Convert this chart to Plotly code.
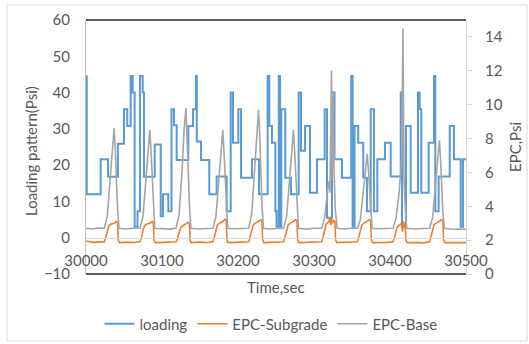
import plotly.graph_objects as go

# ---------------- data ----------------
x_ticks = [30000, 30100, 30200, 30300, 30400, 30500]
left_ticks = [-10, 0, 10, 20, 30, 40, 50, 60]
right_ticks = [0, 2, 4, 6, 8, 10, 12, 14]

# loading pattern (step series, value holds until next time)
loading_t = [30000, 30001, 30019.3, 30029, 30042, 30050, 30054.3, 30058.8, 30061.4, 30064,
             30067.8, 30071, 30074.6, 30076.3, 30090.4, 30098.3, 30101.3, 30108.3, 30112.5, 30115.8,
             30119.3, 30134.6, 30140.8, 30144.7, 30145.8, 30151.3, 30162.2, 30171.9, 30185.1, 30190.4,
             30193.4, 30200.4, 30204, 30218.4, 30227.6, 30239, 30241.2, 30244.7, 30249.1, 30250.7,
             30253.6, 30255.3, 30257, 30262.2, 30269.7, 30279.8, 30282.9, 30288.2, 30294.7, 30303.9,
             30314, 30317.1, 30323.7, 30327, 30336.8, 30349, 30350.8, 30353.4, 30358.2, 30364.8,
             30369.7, 30374.6, 30378.9, 30383.3, 30393.4, 30400.9, 30414.1, 30415.8, 30421, 30427.2,
             30436.8, 30439, 30441.2, 30450.9, 30457.9, 30459.6, 30464, 30478.6, 30484.2, 30493,
             30496, 30500]
loading_v = [44.5, 12, 21.6, 16.8, 25.9, 35.4, 30.8, 44.6, 40, 3,
             7.3, 44.6, 40, 16.8, 25.7, 5.9, 12, 7.3, 35.4, 31,
             21.4, 30.8, 35.4, 44.6, 26.5, 21.4, 12, 16.9, 7.3, 40,
             26.2, 35.4, 16.5, 21.6, 12, 44.6, 30.8, 26.2, 7.3, 3,
             44.6, 3, 35.4, 16.5, 12, 40, 24, 30.8, 12.4, 21.6,
             35.4, 5.5, 40, 21.6, 16.5, 44.6, 3, 30.8, 26.2, 16.5,
             7.3, 35.4, 7.3, 21.6, 26.2, 16.9, 40, 3, 30.8, 12.4,
             40, 35.4, 12.4, 26.2, 44.6, 7.3, 16.9, 30.8, 21.6, 3,
             21.6, 21.6]

# EPC-Subgrade (right axis)
subgrade_t = [30000, 30010, 30018,
              30024, 30026, 30028, 30030, 30033, 30037, 30040, 30041.5, 30042.5, 30044,
              30055, 30064,
              30071, 30073, 30075, 30077, 30080, 30084, 30087, 30088.5, 30089.5, 30091,
              30102, 30111,
              30118.5, 30120.5, 30122.5, 30124.5, 30127.5, 30131.5, 30134.5, 30136, 30137, 30138.5,
              30150, 30160,
              30167, 30169, 30171, 30173, 30176, 30180, 30183, 30184.5, 30185.5, 30187,
              30197, 30207,
              30214, 30216, 30218, 30220, 30223, 30227, 30230, 30231.5, 30232.5, 30234,
              30245, 30254,
              30260, 30262, 30264, 30266, 30269, 30273, 30276, 30277.5, 30278.5, 30280,
              30292, 30302,
              30310, 30312, 30314, 30316, 30319, 30321, 30322, 30323, 30324, 30326, 30327.5, 30328.5, 30330,
              30341, 30350,
              30357, 30359, 30361, 30363, 30366, 30370, 30373, 30374.5, 30375.5, 30377,
              30388, 30397,
              30404, 30406, 30408, 30410, 30413, 30415, 30416.5, 30417.5, 30419, 30420, 30421, 30422.5,
              30435, 30444,
              30452, 30454, 30456, 30458, 30461, 30465, 30468, 30469.5, 30470.5, 30472,
              30484, 30492, 30500]
subgrade_v = [1.95, 1.87, 1.9,
              1.9, 2.15, 2.6, 2.85, 2.95, 3.0, 3.1, 3.05, 2.0, 1.85,
              1.88, 1.86,
              1.9, 2.15, 2.6, 2.85, 2.95, 3.0, 3.1, 3.05, 2.0, 1.85,
              1.87, 1.89,
              1.9, 2.1, 2.5, 2.75, 2.85, 2.95, 3.05, 3.0, 2.0, 1.85,
              1.88, 1.86,
              1.9, 2.2, 2.65, 2.9, 3.0, 3.1, 3.25, 3.2, 2.0, 1.85,
              1.87, 1.89,
              1.9, 2.2, 2.65, 2.9, 3.0, 3.1, 3.2, 3.15, 2.0, 1.85,
              1.86, 1.88,
              1.9, 2.2, 2.65, 2.9, 3.0, 3.1, 3.2, 3.15, 2.0, 1.85,
              1.86, 1.88,
              1.9, 2.2, 2.7, 2.95, 3.05, 3.3, 2.9, 3.35, 3.0, 3.15, 3.1, 2.0, 1.85,
              1.87, 1.86,
              1.9, 2.2, 2.65, 2.9, 3.0, 3.1, 3.2, 3.15, 2.0, 1.85,
              1.85, 1.87,
              1.9, 2.15, 2.55, 2.8, 2.9, 3.0, 2.5, 3.1, 2.9, 2.8, 2.0, 1.85,
              1.86, 1.84,
              1.9, 2.2, 2.65, 2.9, 3.0, 3.1, 3.2, 3.15, 2.0, 1.85,
              1.85, 1.83, 1.85]

# EPC-Base (right axis)
base_t = [30000, 30008, 30016,
          30024, 30028, 30032, 30034.5, 30037, 30038.5, 30040, 30041.5, 30043.5,
          30052, 30062,
          30071, 30075, 30079, 30081.5, 30084, 30085.5, 30087, 30088.5, 30090.5,
          30100, 30110,
          30118.5, 30122.5, 30126.5, 30129, 30131.5, 30133, 30134.5, 30136, 30138,
          30148, 30158,
          30167, 30171, 30175, 30177.5, 30180, 30181.5, 30183, 30184.5, 30186.5,
          30196, 30205,
          30214, 30218, 30222, 30224.5, 30227, 30228.5, 30230, 30231.5, 30233.5,
          30242, 30251,
          30260, 30264, 30268, 30270.5, 30273, 30274.5, 30276, 30277.5, 30279.5,
          30290, 30300,
          30310, 30314, 30318, 30320, 30321, 30323, 30324, 30325, 30326.5, 30328, 30330.5,
          30340, 30349,
          30357, 30361, 30365, 30367.5, 30370, 30371.5, 30373, 30374.5, 30376.5,
          30386, 30395,
          30404, 30408, 30412, 30414, 30415.5, 30417, 30418.5, 30420, 30422,
          30432, 30442,
          30452, 30456, 30460, 30462.5, 30465, 30466.5, 30468, 30469.5, 30471.5,
          30482, 30492, 30500]
base_v = [2.7, 2.66, 2.72,
          2.7, 3.4, 5.6, 7.5, 8.6, 7.4, 5.6, 3.9, 2.7,
          2.66, 2.7,
          2.7, 3.4, 5.6, 7.4, 8.5, 7.3, 5.6, 3.9, 2.7,
          2.68, 2.65,
          2.7, 3.5, 6.2, 8.5, 9.8, 8.4, 6.2, 4.1, 2.7,
          2.66, 2.7,
          2.7, 3.4, 5.6, 7.4, 8.5, 7.3, 5.6, 3.9, 2.7,
          2.67, 2.7,
          2.7, 3.5, 6.2, 8.4, 9.7, 8.3, 6.2, 4.1, 2.7,
          2.66, 2.69,
          2.7, 3.4, 5.6, 7.4, 8.5, 7.3, 5.6, 3.9, 2.7,
          2.65, 2.7,
          2.7, 3.3, 5.0, 5.5, 4.8, 12.0, 5.5, 10.8, 6.0, 3.8, 2.7,
          2.66, 2.7,
          2.7, 3.2, 4.9, 6.3, 7.1, 6.2, 4.9, 3.6, 2.7,
          2.67, 2.7,
          2.7, 3.3, 4.8, 6.0, 7.0, 14.5, 5.5, 4.0, 2.7,
          2.66, 2.68,
          2.7, 3.3, 5.3, 6.9, 7.9, 6.8, 5.3, 3.7, 2.7,
          2.64, 2.66, 2.64]

assert len(loading_t) == len(loading_v)
assert len(subgrade_t) == len(subgrade_v)
assert len(base_t) == len(base_v)

# ---------------- figure ----------------
FONT = "Lato, 'Open Sans', sans-serif"
TXT = "#595959"
W, H = 529, 344
L, R, T, B = 86, 63, 20, 70
pw, ph = W - L - R, H - T - B

def px(xp):
    return (xp - L) / pw

def py(yp):
    return (H - B - yp) / ph

fig = go.Figure()
fig.add_trace(go.Scatter(x=loading_t, y=loading_v, name="loading", mode="lines",
                         line=dict(color="#5B9BD5", width=2, shape="hv"), yaxis="y"))
fig.add_trace(go.Scatter(x=subgrade_t, y=subgrade_v, name="EPC-Subgrade", mode="lines",
                         line=dict(color="#ED7D31", width=1.6), yaxis="y2"))
fig.add_trace(go.Scatter(x=base_t, y=base_v, name="EPC-Base", mode="lines",
                         line=dict(color="#A5A5A5", width=1.6), yaxis="y2"))

fig.update_layout(
    width=W, height=H,
    margin=dict(l=L, r=R, t=T, b=B, autoexpand=False),
    paper_bgcolor="white", plot_bgcolor="white",
    font=dict(family=FONT, size=15, color=TXT),
    showlegend=True,
    legend=dict(orientation="h", x=px(271), xanchor="center", y=py(324), yanchor="middle",
                font=dict(family=FONT, size=15, color=TXT), itemwidth=30,
                bgcolor="rgba(0,0,0,0)"),
    xaxis=dict(range=[30000, 30500], tickvals=x_ticks, ticktext=[str(v) for v in x_ticks],
               anchor="free", position=10 / 70, showline=True, linecolor="#D9D9D9", linewidth=1,
               showgrid=False, zeroline=False, ticks="", ticklabelstandoff=9, automargin=False,
               tickfont=dict(family=FONT, size=15, color=TXT)),
    yaxis=dict(range=[-10, 60], tickvals=left_ticks, showline=True, linecolor="#BFBFBF",
               linewidth=1, showgrid=False, zeroline=False, ticks="", ticklabelstandoff=12,
               automargin=False, tickfont=dict(family=FONT, size=15, color=TXT)),
    yaxis2=dict(range=[0, 15], tickvals=right_ticks, overlaying="y", side="right",
                showline=True, linecolor="#D9D9D9", linewidth=1, showgrid=False, zeroline=False,
                ticks="outside", ticklen=5, tickcolor="#D9D9D9", ticklabelstandoff=10,
                automargin=False, tickfont=dict(family=FONT, size=15, color=TXT)),
    shapes=[
        dict(type="line", xref="paper", yref="paper", x0=0, x1=1, y0=1, y1=1,
             line=dict(color="#262626", width=1.5)),
        dict(type="line", xref="paper", yref="paper", x0=0, x1=1, y0=0, y1=0,
             line=dict(color="#262626", width=1.5)),
        dict(type="rect", xref="paper", yref="paper", x0=px(7), x1=px(527), y0=py(341), y1=py(5),
             line=dict(color="#D9D9D9", width=1), layer="below"),
    ],
    annotations=[
        dict(text="Time,sec", xref="paper", yref="paper", x=px(276), y=py(287),
             showarrow=False, xanchor="center", yanchor="middle",
             font=dict(family=FONT, size=15, color=TXT)),
        dict(text="Loading pattern(Psi)", xref="paper", yref="paper", x=px(31), y=py(151),
             showarrow=False, xanchor="center", yanchor="middle", textangle=-90,
             font=dict(family=FONT, size=15, color=TXT)),
        dict(text="EPC,Psi", xref="paper", yref="paper", x=px(515), y=py(147),
             showarrow=False, xanchor="center", yanchor="middle", textangle=-90,
             font=dict(family=FONT, size=15, color=TXT)),
    ],
)

fig.write_html("out.html", config={"displayModeBar": False},
               post_script="document.body.style.margin='0';document.body.style.overflow='hidden';")
